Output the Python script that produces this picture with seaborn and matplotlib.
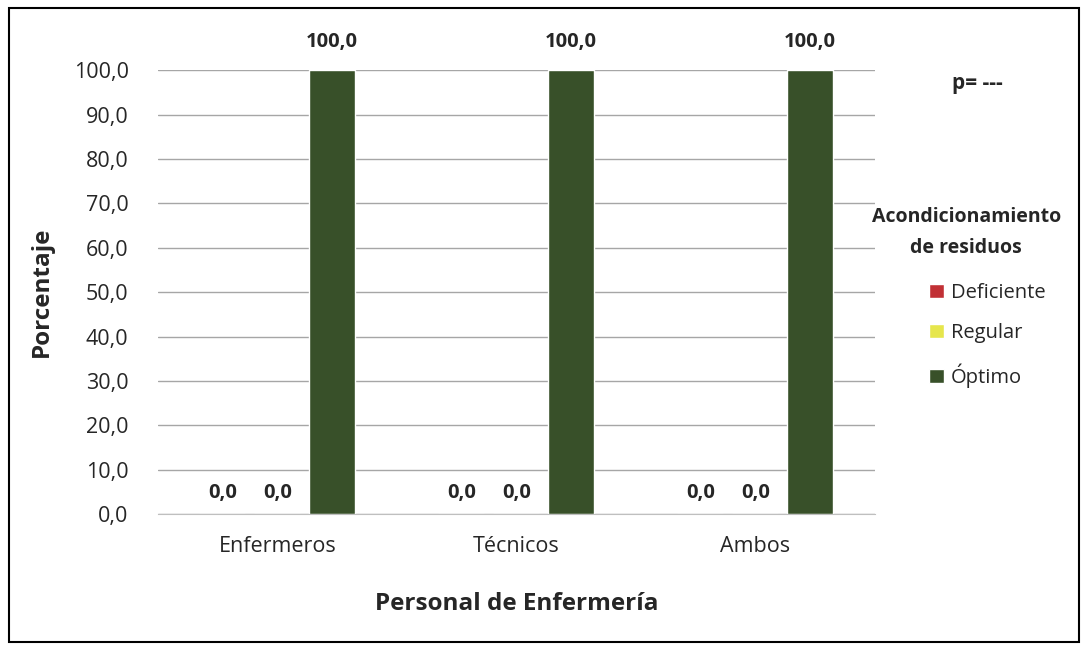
import pandas as pd
import seaborn as sns
import matplotlib.pyplot as plt
from matplotlib.patches import Rectangle

# datos
personal = ["Enfermeros", "Técnicos", "Ambos"]
niveles = ["Deficiente", "Regular", "Óptimo"]
deficiente = [0.0, 0.0, 0.0]
regular = [0.0, 0.0, 0.0]
optimo = [100.0, 100.0, 100.0]
colores = ["#D9181E", "#FFFF33", "#375623"]

df = pd.DataFrame({
    "personal": personal * 3,
    "nivel": [niveles[0]] * 3 + [niveles[1]] * 3 + [niveles[2]] * 3,
    "porcentaje": deficiente + regular + optimo,
})

sns.set_style("white")
plt.rcParams["font.family"] = ["Open Sans", "DejaVu Sans"]

fig = plt.figure(figsize=(10.88, 6.5), dpi=100)
ax = fig.add_axes([0.145, 0.209, 0.659, 0.683])

sns.barplot(x="personal", y="porcentaje", hue="nivel", data=df,
            palette=colores, hue_order=niveles, order=personal,
            width=0.69, gap=0.17, ax=ax, legend=True)

ax.set_ylim(0, 100)
ax.set_xlim(-0.5, 2.5)
ax.set_yticks(range(0, 101, 10))
ax.set_yticklabels([f"{v:.1f}".replace(".", ",") for v in range(0, 101, 10)])
ax.yaxis.grid(True, color="#A6A6A6", linewidth=1)
ax.set_axisbelow(True)
for s in ["left", "right", "top"]:
    ax.spines[s].set_visible(False)
ax.spines["bottom"].set_color("#BFBFBF")
ax.tick_params(axis="both", length=0, labelsize=15.5, colors="#262626")
ax.tick_params(axis="y", pad=21)
ax.tick_params(axis="x", pad=16)

ax.set_xlabel("Personal de Enfermería", fontsize=17.5, fontweight="bold")
ax.set_ylabel("Porcentaje", fontsize=17.5, fontweight="bold")
ax.xaxis.set_label_coords(0.5, -0.203)
ax.xaxis.label.set_va("center")
ax.yaxis.set_label_coords(-0.162, 0.5)
ax.yaxis.label.set_va("center")

# etiquetas de valores
for i, cont in enumerate(ax.containers):
    ax.bar_label(cont, labels=[f"{b.get_height():.1f}".replace(".", ",") for b in cont],
                 padding=13 if i == 2 else 8, fontsize=14.5, fontweight="bold")

# leyenda: título aparte, entradas alineadas a la izquierda
fig.text(0.888, 0.642, "Acondicionamiento\nde residuos", fontsize=14, fontweight="bold",
         ha="center", va="center", linespacing=1.75, color="#262626")
leg = ax.legend(loc="upper left", bbox_to_anchor=(0.845, 0.58), bbox_transform=fig.transFigure,
                frameon=False, fontsize=14.5, borderpad=0,
                handlelength=0.7, handleheight=0.7, handletextpad=0.35,
                labelspacing=1.0)

fig.text(0.898, 0.872, "p= ---", fontsize=15, fontweight="bold", ha="center", va="center")

fig.patches.append(Rectangle((0.008, 0.012), 0.984, 0.976, transform=fig.transFigure,
                             fill=False, edgecolor="black", linewidth=1.5))

fig.savefig("out.png", dpi=100)
